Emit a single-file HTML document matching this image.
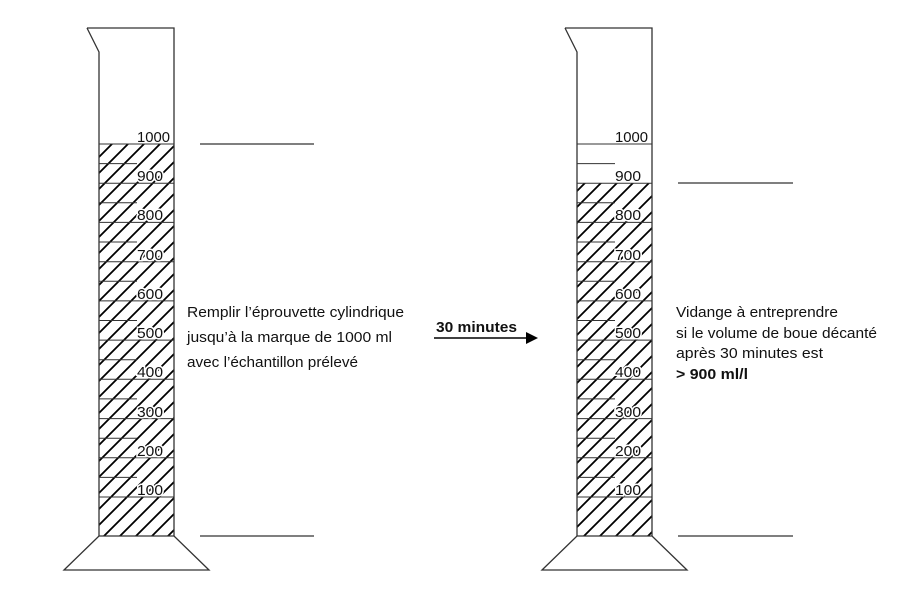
<!DOCTYPE html>
<html><head><meta charset="utf-8"><style>
html,body{margin:0;padding:0;background:#fff;}
svg{display:block;}
text{font-family:"Liberation Sans",Arial,sans-serif;fill:#111;}
.lab{font-size:15px;stroke:#fff;stroke-width:3px;paint-order:stroke;}
.t{font-size:14.5px;}
</style></head><body>
<svg width="903" height="606" viewBox="0 0 903 606" xmlns="http://www.w3.org/2000/svg">
<defs>
<pattern id="h" patternUnits="userSpaceOnUse" width="16" height="16">
<path d="M-4,4 L4,-4 M0,16 L16,0 M12,20 L20,12" stroke="#000" stroke-width="1.8"/>
</pattern>
<g id="ticks" stroke="#333" stroke-width="1" fill="none">
<line x1="0" y1="144" x2="75" y2="144"/>
<line x1="0" y1="183.2" x2="75" y2="183.2"/>
<line x1="0" y1="222.4" x2="75" y2="222.4"/>
<line x1="0" y1="261.7" x2="75" y2="261.7"/>
<line x1="0" y1="300.9" x2="75" y2="300.9"/>
<line x1="0" y1="340.1" x2="75" y2="340.1"/>
<line x1="0" y1="379.3" x2="75" y2="379.3"/>
<line x1="0" y1="418.6" x2="75" y2="418.6"/>
<line x1="0" y1="457.8" x2="75" y2="457.8"/>
<line x1="0" y1="497" x2="75" y2="497"/>
<line x1="0" y1="163.6" x2="38" y2="163.6"/>
<line x1="0" y1="202.8" x2="38" y2="202.8"/>
<line x1="0" y1="242" x2="38" y2="242"/>
<line x1="0" y1="281.3" x2="38" y2="281.3"/>
<line x1="0" y1="320.5" x2="38" y2="320.5"/>
<line x1="0" y1="359.7" x2="38" y2="359.7"/>
<line x1="0" y1="398.9" x2="38" y2="398.9"/>
<line x1="0" y1="438.2" x2="38" y2="438.2"/>
<line x1="0" y1="477.4" x2="38" y2="477.4"/>
</g>
<g id="body" fill="none" stroke="#333" stroke-width="1.3">
<polyline points="-12,28 75,28 75,536"/>
<polyline points="-12,28 0,52 0,536"/>
<polygon points="0,536 75,536 110,570 -35,570" fill="#fff"/>
</g>
</defs>

<!-- left cylinder -->
<rect x="99" y="144" width="75" height="392" fill="url(#h)"/>
<g transform="translate(99,0)"><use href="#ticks"/><use href="#body"/></g>
<g lengthAdjust="spacingAndGlyphs">
<text x="137" y="142" class="lab" textLength="33" lengthAdjust="spacingAndGlyphs">1000</text>
<text x="137" y="181" class="lab" textLength="26" lengthAdjust="spacingAndGlyphs">900</text>
<text x="137" y="220" class="lab" textLength="26" lengthAdjust="spacingAndGlyphs">800</text>
<text x="137" y="260" class="lab" textLength="26" lengthAdjust="spacingAndGlyphs">700</text>
<text x="137" y="299" class="lab" textLength="26" lengthAdjust="spacingAndGlyphs">600</text>
<text x="137" y="338" class="lab" textLength="26" lengthAdjust="spacingAndGlyphs">500</text>
<text x="137" y="377" class="lab" textLength="26" lengthAdjust="spacingAndGlyphs">400</text>
<text x="137" y="417" class="lab" textLength="26" lengthAdjust="spacingAndGlyphs">300</text>
<text x="137" y="456" class="lab" textLength="26" lengthAdjust="spacingAndGlyphs">200</text>
<text x="137" y="495" class="lab" textLength="26" lengthAdjust="spacingAndGlyphs">100</text>
</g>
<line x1="200" y1="144" x2="314" y2="144" stroke="#333" stroke-width="1.2"/>
<line x1="200" y1="536" x2="314" y2="536" stroke="#333" stroke-width="1.2"/>
<text class="t" x="187" y="317" textLength="217" lengthAdjust="spacingAndGlyphs">Remplir l’éprouvette cylindrique</text>
<text class="t" x="187" y="342" textLength="205" lengthAdjust="spacingAndGlyphs">jusqu’à la marque de 1000 ml</text>
<text class="t" x="187" y="367" textLength="171" lengthAdjust="spacingAndGlyphs">avec l’échantillon prélevé</text>

<!-- arrow -->
<text x="436" y="332" style="font-size:15px;font-weight:bold;" textLength="81" lengthAdjust="spacingAndGlyphs">30 minutes</text>
<line x1="434" y1="338" x2="528" y2="338" stroke="#000" stroke-width="1.4"/>
<polygon points="526,332 538,338 526,344" fill="#000"/>

<!-- right cylinder -->
<rect x="577" y="183.2" width="75" height="352.8" fill="url(#h)"/>
<g transform="translate(577,0)"><use href="#ticks"/><use href="#body"/></g>
<text x="615" y="142" class="lab" textLength="33" lengthAdjust="spacingAndGlyphs">1000</text>
<text x="615" y="181" class="lab" textLength="26" lengthAdjust="spacingAndGlyphs">900</text>
<text x="615" y="220" class="lab" textLength="26" lengthAdjust="spacingAndGlyphs">800</text>
<text x="615" y="260" class="lab" textLength="26" lengthAdjust="spacingAndGlyphs">700</text>
<text x="615" y="299" class="lab" textLength="26" lengthAdjust="spacingAndGlyphs">600</text>
<text x="615" y="338" class="lab" textLength="26" lengthAdjust="spacingAndGlyphs">500</text>
<text x="615" y="377" class="lab" textLength="26" lengthAdjust="spacingAndGlyphs">400</text>
<text x="615" y="417" class="lab" textLength="26" lengthAdjust="spacingAndGlyphs">300</text>
<text x="615" y="456" class="lab" textLength="26" lengthAdjust="spacingAndGlyphs">200</text>
<text x="615" y="495" class="lab" textLength="26" lengthAdjust="spacingAndGlyphs">100</text>
<line x1="678" y1="183" x2="793" y2="183" stroke="#333" stroke-width="1.2"/>
<line x1="678" y1="536" x2="793" y2="536" stroke="#333" stroke-width="1.2"/>
<text class="t" x="676" y="317" textLength="162" lengthAdjust="spacingAndGlyphs">Vidange à entreprendre</text>
<text class="t" x="676" y="338" textLength="201" lengthAdjust="spacingAndGlyphs">si le volume de boue décanté</text>
<text class="t" x="676" y="358" textLength="147" lengthAdjust="spacingAndGlyphs">après 30 minutes est</text>
<text class="t" x="676" y="379" style="font-weight:bold;" textLength="72" lengthAdjust="spacingAndGlyphs">&gt; 900 ml/l</text>
</svg>
</body></html>
